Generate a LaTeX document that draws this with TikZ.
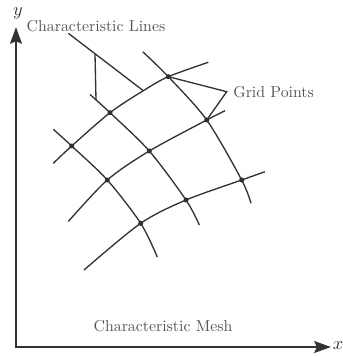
\documentclass[tikz,border=0pt]{standalone}
\usetikzlibrary{arrows.meta, positioning}
\definecolor{meshgray}{RGB}{51, 51, 51}
\definecolor{labelgray}{RGB}{85, 85, 85}
\tikzset{
    meshline/.style={draw=meshgray, line width=0.8pt, line join=round},
    pointer/.style={draw=meshgray, line width=0.8pt, line join=miter},
    gridpoint/.style={circle, fill=black!85, inner sep=0pt, minimum size=3pt},
    axisline/.style={draw=meshgray, line width=1.6pt, {Stealth[length=10pt, width=7pt, inset=1.5pt]}-{Stealth[length=10pt, width=7pt, inset=1.5pt]}},
    labeltext/.style={font=\fontsize{9.5}{11}\selectfont, text=labelgray, inner sep=0pt},
    axislabel/.style={font=\fontsize{11}{13}\selectfont, text=meshgray, inner sep=0pt},
}
\begin{document}
\begin{tikzpicture}[x=0.6pt, y=-0.6pt]
    \useasboundingbox (0,0) rectangle (342,356);
    % Axes
    \coordinate (ytip) at (16,27);
    \coordinate (xtip) at (331,347);
    \draw[axisline] (ytip) |- (xtip);
    \node[axislabel] (ylab) at (18,13) {$y$};
    \node[axislabel] (xlab) at (338,346) {$x$};

    % Grid points
    \node[gridpoint] (p1) at (168.3,76.7) {};
    \node[gridpoint] (p2) at (206.7,120) {};
    \node[gridpoint] (p3) at (110,112.7) {};
    \node[gridpoint] (p4) at (149.3,151) {};
    \node[gridpoint] (p5) at (241.7,180) {};
    \node[gridpoint] (p6) at (71.7,146) {};
    \node[gridpoint] (p7) at (107.3,180) {};
    \node[gridpoint] (p8) at (186,200) {};
    \node[gridpoint] (p9) at (140.7,223.3) {};

    % Free ends of the characteristic lines
    \coordinate (r1a) at (53.3,163.3);
    \coordinate (r1m) at (143.3,90.7);
    \coordinate (r1b) at (208.3,62.3);
    \coordinate (r2a) at (68.3,221.5);
    \coordinate (r2b) at (225,110.7);
    \coordinate (r3a) at (84,270);
    \coordinate (r3b) at (265,171.7);
    \coordinate (d1a) at (90,94.5);
    \coordinate (d1b) at (199.3,225);
    \coordinate (d2a) at (142.7,51.7);
    \coordinate (d2b) at (251,203.3);
    \coordinate (d3a) at (53.3,129.3);
    \coordinate (d3b) at (157.3,257);

    % Rising family
    \draw[meshline] plot[smooth] coordinates {(r1a) (p6.center) (p3.center) (r1m) (p1.center) (r1b)};
    \draw[meshline] plot[smooth] coordinates {(r2a) (p7.center) (p4.center) (p2.center) (r2b)};
    \draw[meshline] plot[smooth] coordinates {(r3a) (p9.center) (p8.center) (p5.center) (r3b)};
    % Falling family
    \draw[meshline] plot[smooth] coordinates {(d3a) (p6.center) (p7.center) (p9.center) (d3b)};
    \draw[meshline] plot[smooth] coordinates {(d1a) (p3.center) (p4.center) (p8.center) (d1b)};
    \draw[meshline] plot[smooth] coordinates {(d2a) (p1.center) (p2.center) (p5.center) (d2b)};

    % Labels
    \node[labeltext] (charlines) at (96,26) {Characteristic Lines};
    \node[labeltext, anchor=west] (gridpts) at (233,92) {Grid Points};
    \node[labeltext] (charmesh) at (163,326) {Characteristic Mesh};

    % Pointers
    \coordinate (cl0) at (68.3,33.3);
    \coordinate (clb) at (95,54.2);
    \coordinate (cl1) at (96,100);
    \coordinate (gpv) at (226.7,91.7);
    \draw[pointer] (cl0) -- (r1m);
    \draw[pointer] (clb) -- (cl1);
    \draw[pointer] (p1.center) -- (gpv) -- (p2.center);
\end{tikzpicture}
\end{document}
